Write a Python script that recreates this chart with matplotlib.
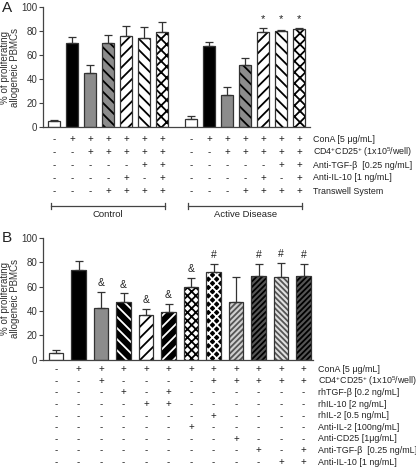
import numpy as np
import matplotlib
matplotlib.use("Agg")
import matplotlib.pyplot as plt
import matplotlib.transforms as mtrans

plt.rcParams['font.family'] = ['Liberation Sans', 'DejaVu Sans']
plt.rcParams['mathtext.default'] = 'regular'
plt.rcParams['hatch.linewidth'] = 1.3

# ---- Panel A data ----
a_ctrl_vals = [5, 70, 45.5, 70, 76, 74.5, 79.5]
a_ctrl_err = [1, 5, 6.5, 7, 8.5, 9, 8]
a_act_vals = [7, 68, 26.5, 52, 79, 80.5, 82]
a_act_err = [2, 3, 7, 6, 4, 0.5, 0.5]
a_act_marks = ['', '', '', '', '*', '*', '*']
a_row_labels = ['ConA [5 \u03bcg/mL]', 'CD4$^{+}$CD25$^{+}$ (1x10$^{5}$/well)',
                'Anti-TGF-\u03b2  [0.25 ng/mL]', 'Anti-IL-10 [1 ng/mL]', 'Transwell System']
a_table = [
    '-++++++',
    '--+++++',
    '-----++',
    '----+-+',
    '---++++',
]
a_groups = ['Control', 'Active Disease']

# ---- Panel B data ----
b_vals = [5, 74, 42.5, 47.5, 36.5, 39, 60, 72, 47, 69, 68, 69]
b_err = [3, 7, 13, 7, 5, 7, 7, 7, 21, 10, 11.5, 10]
b_marks = ['', '', '&', '&', '&', '&', '&', '#', '', '#', '#', '#']
b_row_labels = ['ConA [5 \u03bcg/mL]', 'CD4$^{+}$CD25$^{+}$ (1x10$^{5}$/well)',
                'rhTGF-\u03b2 [0.2 ng/mL]', 'rhIL-10 [2 ng/mL]', 'rhIL-2 [0.5 ng/mL]',
                'Anti-IL-2 [100ng/mL]', 'Anti-CD25 [1\u03bcg/mL]',
                'Anti-TGF-\u03b2  [0.25 ng/mL]', 'Anti-IL-10 [1 ng/mL]']
b_table = [
    '-+++++++++++',
    '--+----+++++',
    '---+-+------',
    '----++------',
    '-------+----',
    '------+-----',
    '--------+---',
    '---------+-+',
    '----------++',
]

# bar styles: (face, hatch, hatch colour)
a_styles = [('white', None, None), ('black', None, None), ('#8c8c8c', None, None),
            ('#8c8c8c', '\\\\\\', 'black'), ('white', '///', 'black'),
            ('white', '\\\\\\', 'black'), ('white', 'xxx', 'black')]
b_styles = [('white', None, None), ('black', None, None), ('#8c8c8c', None, None),
            ('black', '\\\\\\', 'white'), ('white', '///', 'black'),
            ('black', '///', 'white'), ('white', 'xxxx', 'black'),
            ('black', 'xxxx', 'white'), ('#d0d0d0', '//////', '#555555'),
            ('#555555', '//////', 'black'), ('#e0e0e0', '\\\\\\\\\\\\', '#555555'),
            ('#555555', '//////', 'black')]

EDGE = '#333333'
W = 0.66
TXT = '#222222'


def draw_bar(ax, x, h, style):
    face, hatch, hcol = style
    if hatch is None:
        ax.bar(x, h, W, color=face, edgecolor=EDGE, linewidth=0.9, zorder=2)
    else:
        ax.bar(x, h, W, color=face, edgecolor=hcol, hatch=hatch, linewidth=0, zorder=2)
        ax.bar(x, h, W, color='none', edgecolor=EDGE, linewidth=0.9, zorder=3)


def style_axis(ax):
    for s in ['top', 'right']:
        ax.spines[s].set_visible(False)
    for s in ['left', 'bottom']:
        ax.spines[s].set_color('#444444')
        ax.spines[s].set_linewidth(0.9)
    ax.set_ylim(0, 100)
    ax.set_yticks([0, 20, 40, 60, 80, 100])
    ax.tick_params(axis='y', labelsize=7, length=3, color='#444444', labelcolor='#333333', pad=1)
    ax.set_xticks([])
    ax.set_ylabel('% of proliferating\nallogeneic PBMCs', fontsize=7, color='#333333',
                  linespacing=1.05)
    ax.yaxis.set_label_coords(-0.085, 0.5)


fig = plt.figure(figsize=(4.16, 4.68), dpi=100)
FH = 468.0

# ---------------- Panel A ----------------
axA = fig.add_axes([43 / 416, 1 - 127.3 / FH, 267 / 416, 120 / FH])
xa = list(np.arange(7)) + list(np.arange(7) + 7.6)
valsA = a_ctrl_vals + a_act_vals
errA = a_ctrl_err + a_act_err
marksA = [''] * 7 + a_act_marks
for i, (x, v, e) in enumerate(zip(xa, valsA, errA)):
    draw_bar(axA, x, v, a_styles[i % 7])
    axA.errorbar(x, v, yerr=[[0], [e]], fmt='none', ecolor=EDGE, elinewidth=0.9,
                 capsize=3, capthick=0.9, zorder=4)
    if marksA[i]:
        axA.text(x, 86, marksA[i], ha='center', va='bottom', fontsize=8, color=TXT)
axA.set_xlim(-0.61, 14.2)
style_axis(axA)
fig.text(0.005, 1 - 8 / FH, 'A', fontsize=11, va='center', ha='left', color=TXT)

trA = mtrans.blended_transform_factory(axA.transData, fig.transFigure)
rowsA_y = [139, 152, 165, 178, 191]
for r, (row, lab) in enumerate(zip(a_table, a_row_labels)):
    yy = 1 - rowsA_y[r] / FH
    for i, x in enumerate(xa):
        axA.text(x, yy, row[i % 7], transform=trA, ha='center', va='center',
                 fontsize=7, color=TXT, clip_on=False)
    fig.text(313 / 416, yy, lab, ha='left', va='center', fontsize=6.4, color=TXT)

# group brackets
for g, name in enumerate(a_groups):
    x0 = xa[g * 7] - 0.18
    x1 = xa[g * 7 + 6] + 0.18
    yb = 1 - 206 / FH
    axA.plot([x0, x1], [yb, yb], transform=trA, color='#444444', lw=0.9, clip_on=False)
    for xe in (x0, x1):
        axA.plot([xe, xe], [yb - 3 / FH, yb + 3 / FH], transform=trA, color='#444444',
                 lw=0.9, clip_on=False)
    axA.text((x0 + x1) / 2, 1 - 215 / FH, name, transform=trA, ha='center', va='center',
             fontsize=6.8, color=TXT)

# ---------------- Panel B ----------------
axB = fig.add_axes([43 / 416, 1 - 359.5 / FH, 270 / 416, 121.5 / FH])
xb = np.arange(len(b_vals))
for i, (x, v, e) in enumerate(zip(xb, b_vals, b_err)):
    draw_bar(axB, x, v, b_styles[i])
    axB.errorbar(x, v, yerr=[[0], [e]], fmt='none', ecolor=EDGE, elinewidth=0.9,
                 capsize=3, capthick=0.9, zorder=4)
    if b_marks[i]:
        axB.text(x, v + e + 3, b_marks[i], ha='center', va='bottom', fontsize=7.5, color=TXT)
axB.set_xlim(-0.58, 11.42)
style_axis(axB)
axB.yaxis.set_label_coords(-0.084, 0.5)
fig.text(0.005, 1 - 238 / FH, 'B', fontsize=11, va='center', ha='left', color=TXT)

trB = mtrans.blended_transform_factory(axB.transData, fig.transFigure)
for r, (row, lab) in enumerate(zip(b_table, b_row_labels)):
    yy = 1 - (369.3 + r * 11.6) / FH
    for i, x in enumerate(xb):
        axB.text(x, yy, row[i], transform=trB, ha='center', va='center',
                 fontsize=7, color=TXT, clip_on=False)
    fig.text(318 / 416, yy, lab, ha='left', va='center', fontsize=6.4, color=TXT)

fig.savefig('out.png', dpi=100)
